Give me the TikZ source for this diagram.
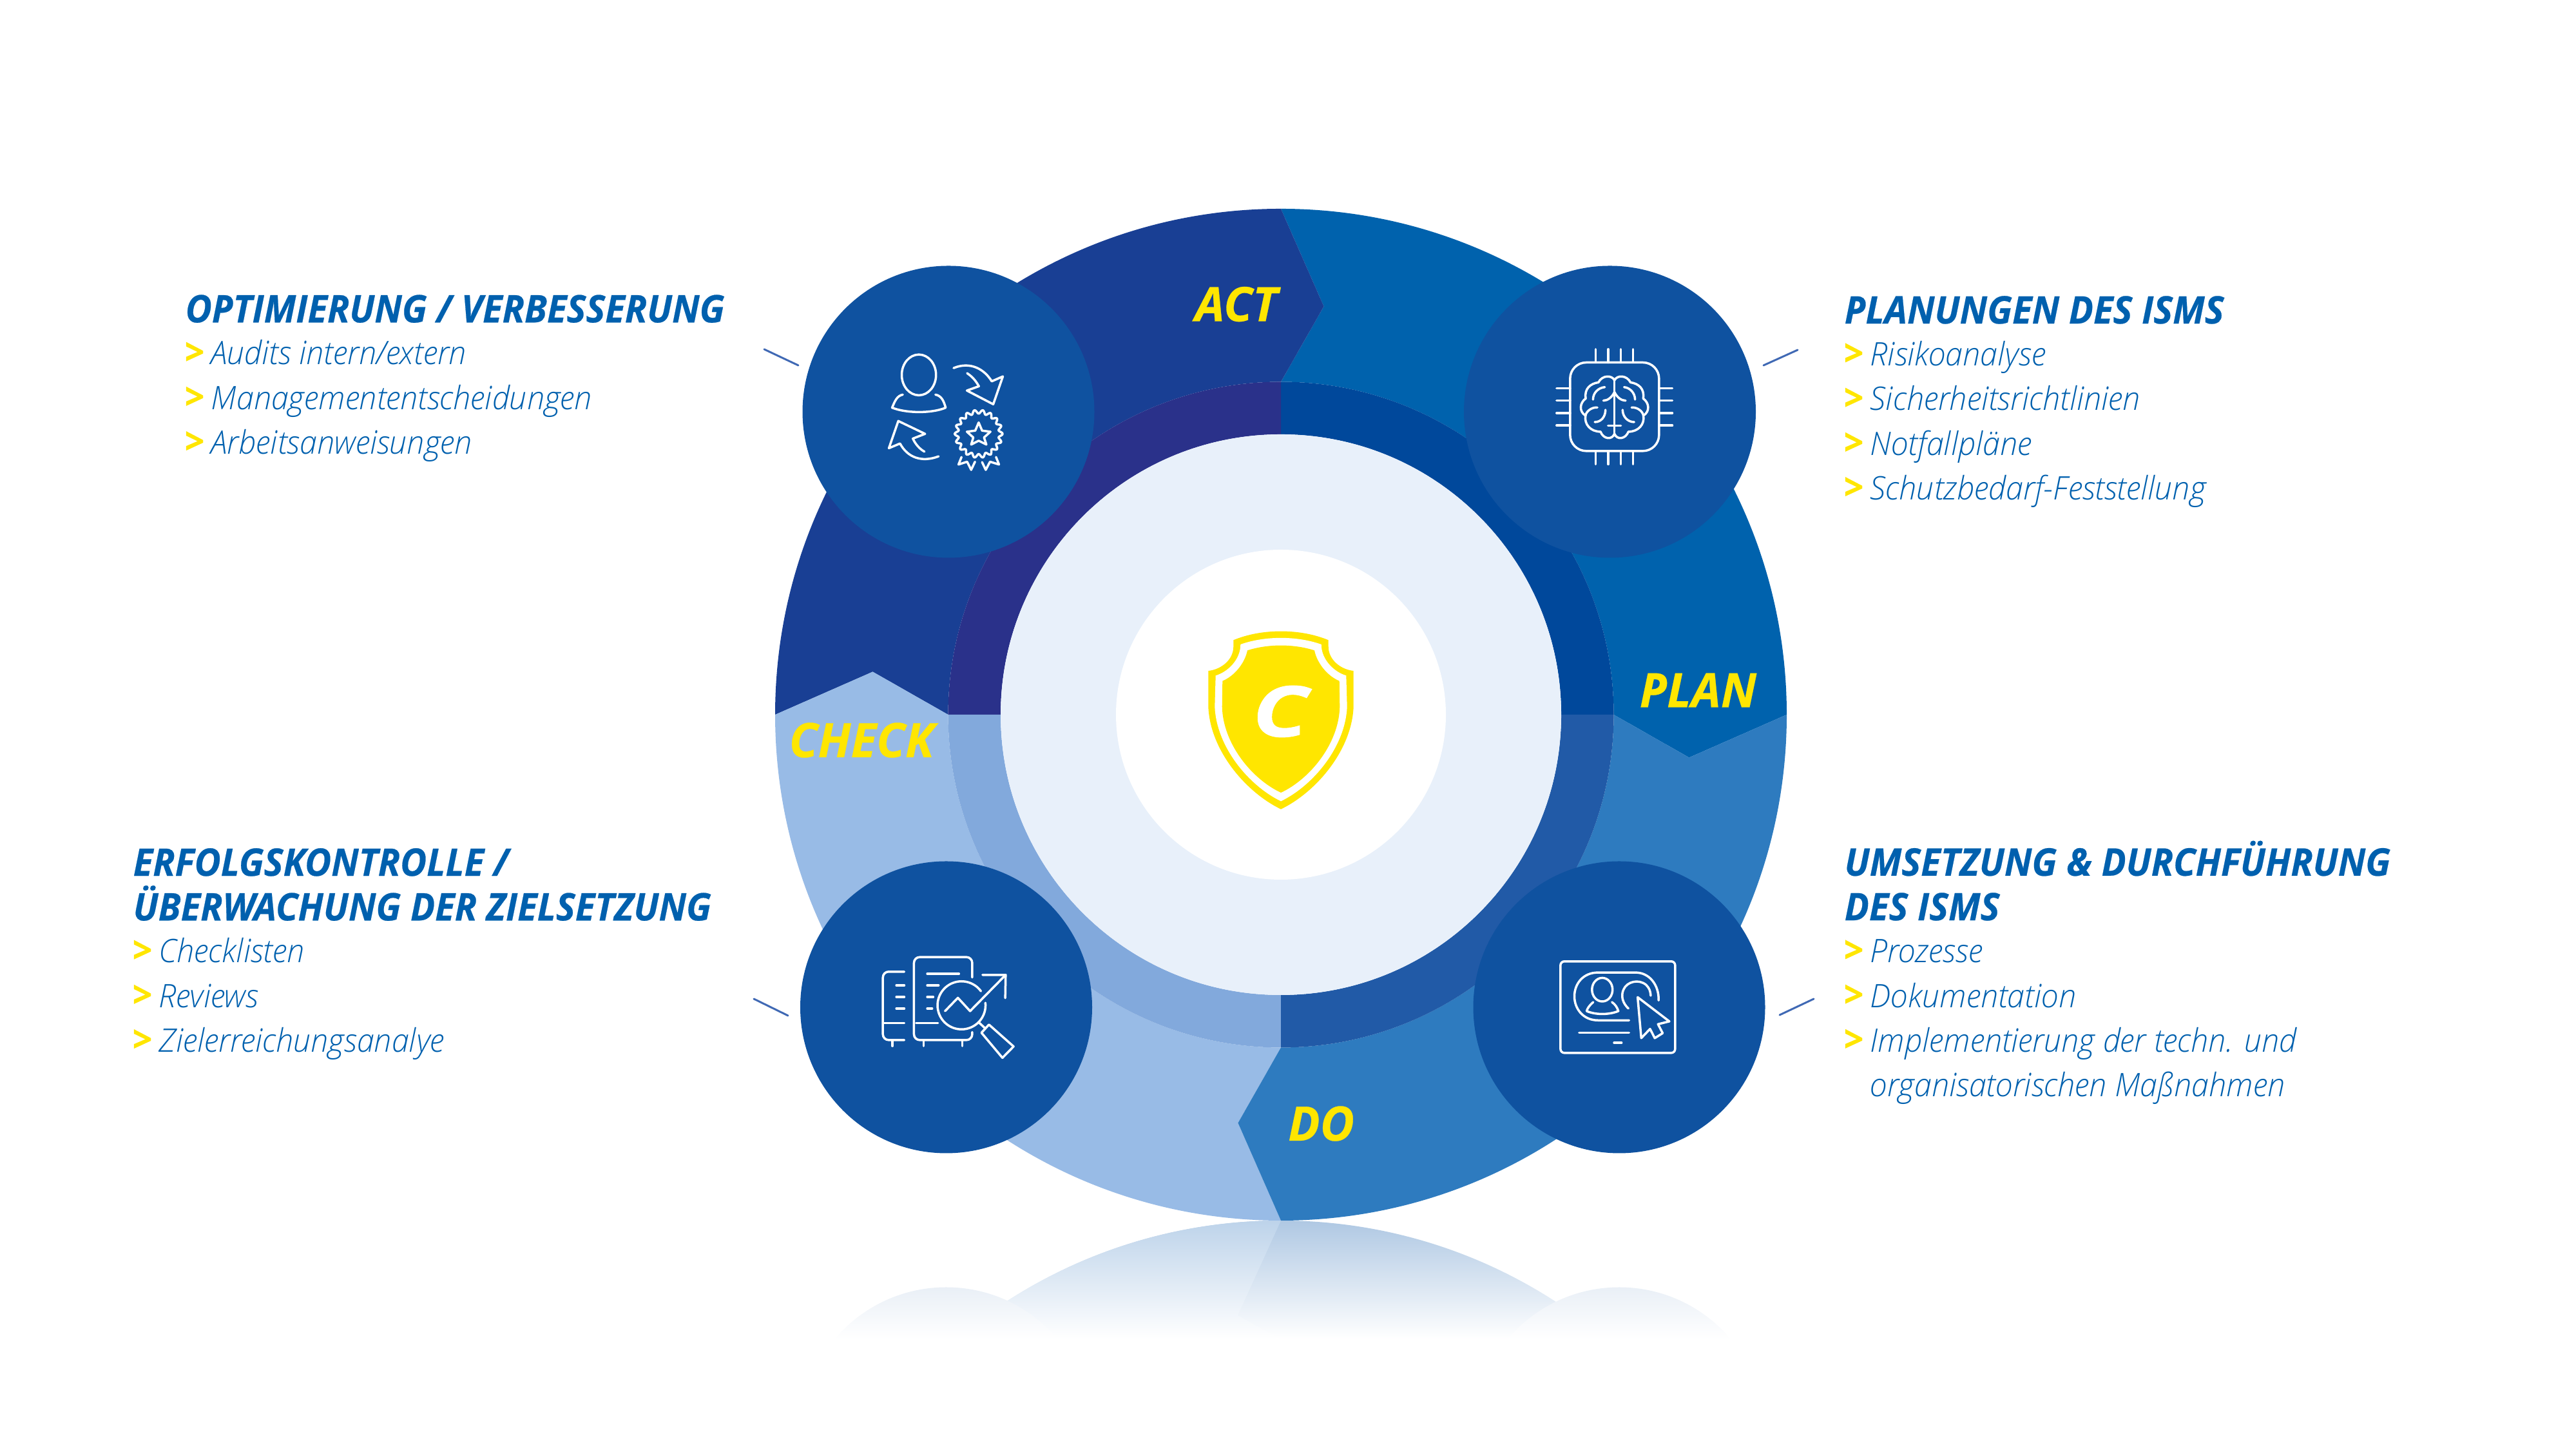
\documentclass[tikz,border=0pt]{standalone}
\usepackage{fontspec}
\setmainfont{Open Sans}
\newfontfamily\headfont[FakeStretch=0.955,FakeBold=0.4]{Open Sans}
\newfontfamily\labelfont[FakeStretch=0.99,FakeBold=0.4]{Open Sans}
\newfontfamily\logofont[FakeStretch=1.3,FakeBold=0.8]{Open Sans}
\newfontfamily\bodyfont[FakeStretch=0.965]{Open Sans Light}
\definecolor{actblue}{HTML}{193F94}
\definecolor{planblue}{HTML}{0062AD}
\definecolor{doblue}{HTML}{2E7BBF}
\definecolor{checkblue}{HTML}{98BBE6}
\definecolor{actring}{HTML}{2A318A}
\definecolor{planring}{HTML}{00489B}
\definecolor{doring}{HTML}{215AA7}
\definecolor{checkring}{HTML}{82A9DC}
\definecolor{corelight}{HTML}{E8F0FA}
\definecolor{circleblue}{HTML}{0F52A0}
\definecolor{signyellow}{HTML}{FFE600}
\definecolor{textblue}{HTML}{0060AE}
\definecolor{tickblue}{HTML}{4069B4}
\definecolor{mirrordo}{HTML}{AFC8E3}
\definecolor{mirrorcheck}{HTML}{BDD3EA}
\definecolor{mirrormid}{HTML}{EFF4FA}
\newcommand{\headline}[1]{{\hspace*{-0.03cm}\headfont\bfseries\itshape\fontsize{16.8}{19.7}\selectfont #1}}
\newcommand{\itm}[1]{\makebox[0.37cm][l]{\hspace*{-0.04cm}\textcolor{signyellow}{\headfont\bfseries\upshape\fontsize{16}{19.7}\selectfont >}}#1}
\tikzset{
    cyclelabel/.style={font=\labelfont\bfseries\itshape\fontsize{21}{21}\selectfont, text=signyellow, inner sep=0pt, anchor=base west},
    blocktext/.style={font=\bodyfont\itshape\fontsize{14.3}{19.7}\selectfont, text=textblue, align=left, inner sep=0pt, anchor=base west},
    iconcircle/.style={circle, fill=circleblue, minimum size=4.53cm, inner sep=0pt},
    iconline/.style={draw=white, line width=0.035cm, line cap=round, line join=round},
    tickline/.style={draw=tickblue, line width=0.03cm, line cap=round}
}
\begin{document}
\begin{tikzpicture}
    \useasboundingbox (0,0) rectangle (39.98,22.5);
    \coordinate (c) at (19.88,11.41);

    % Reflection below the ring
    \begin{scope}
        \clip (19.88,-4.29) circle (7.85);
        \shade[top color=mirrordo, middle color=mirrormid, bottom color=white] (12,1.72) rectangle (28,3.56);
        \begin{scope}
            \clip (12,3.56) -- (19.88,3.56) -- (19.21,2.09) -- (19.88,1.72) -- (12,1.72) -- cycle;
            \shade[top color=mirrorcheck, middle color=mirrormid, bottom color=white] (12,1.72) rectangle (28,3.56);
        \end{scope}
    \end{scope}
    \begin{scope}
        \clip (14.685,0.26) circle (2.265) (25.13,0.26) circle (2.265);
        \shade[top color=circleblue!9!white, bottom color=white] (12,1.72) rectangle (28,2.52);
    \end{scope}

    % Four segments of the ring
    \foreach \ang/\segcol/\ringcol in {0/planblue/planring, 90/actblue/actring, 180/checkblue/checkring, 270/doblue/doring} {
        \begin{scope}[shift={(c)}, rotate=\ang]
            \fill[\segcol] (90:7.85) arc[start angle=90, end angle=0, radius=7.85] -- (-6:6.37) -- (0:5.165)
                arc[start angle=0, end angle=90, radius=5.165] -- (84:6.37) -- cycle;
            \fill[\ringcol] (0:5.165) arc[start angle=0, end angle=90, radius=5.165] -- (90:4.35)
                arc[start angle=90, end angle=0, radius=4.35] -- cycle;
        \end{scope}
    }

    % Core
    \node[circle, fill=corelight, minimum size=8.7cm, inner sep=0pt] (core) at (c) {};
    \node[circle, fill=white, minimum size=5.12cm, inner sep=0pt] (corewhite) at (c) {};

    % Shield
    \begin{scope}[shift={(c)}]
        \fill[signyellow] (-0.737,1.157) .. controls (-0.3,1.34) and (0.3,1.34) .. (0.737,1.157) -- (0.737,1.057)
            .. controls (0.737,0.85) and (0.93,0.70) .. (1.127,0.68) -- (1.127,0.123)
            .. controls (1.1,-0.55) and (0.55,-1.2) .. (0,-1.467)
            .. controls (-0.55,-1.2) and (-1.1,-0.55) .. (-1.127,0.123) -- (-1.127,0.68)
            .. controls (-0.93,0.70) and (-0.737,0.85) .. (-0.737,1.057) -- cycle;
        \fill[white] (-0.627,1.09) .. controls (-0.25,1.225) and (0.25,1.225) .. (0.627,1.09)
            .. controls (0.627,0.85) and (0.83,0.66) .. (1.013,0.607) -- (1.027,0.123)
            .. controls (1.0,-0.5) and (0.5,-1.1) .. (0,-1.343)
            .. controls (-0.5,-1.1) and (-1.0,-0.5) .. (-1.027,0.123) -- (-1.013,0.607)
            .. controls (-0.83,0.66) and (-0.627,0.85) .. (-0.627,1.09) -- cycle;
        \fill[signyellow] (-0.52,0.997) .. controls (-0.2,1.1) and (0.2,1.1) .. (0.52,0.997)
            .. controls (0.56,0.8) and (0.72,0.6) .. (0.907,0.523) -- (0.913,0.123)
            .. controls (0.9,-0.45) and (0.45,-1.0) .. (0,-1.21)
            .. controls (-0.45,-1.0) and (-0.9,-0.45) .. (-0.913,0.123) -- (-0.907,0.523)
            .. controls (-0.72,0.6) and (-0.56,0.8) .. (-0.52,0.997) -- cycle;
    \end{scope}
    \node[font=\logofont\bfseries\itshape\fontsize{31}{31}\selectfont, text=white, inner sep=0pt] (logo) at (19.87,11.46) {C};

    % Labels in the ring
    \node[cyclelabel] (actlabel) at (18.54,17.515) {ACT};
    \node[cyclelabel] (planlabel) at (25.44,11.525) {PLAN};
    \node[cyclelabel] (checklabel) at (12.24,10.75) {CHECK};
    \node[cyclelabel] (dolabel) at (19.985,4.80) {DO};

    % Icon circles
    \node[iconcircle] (act) at (14.72,16.11) {};
    \node[iconcircle] (plan) at (24.985,16.11) {};
    \node[iconcircle] (check) at (14.685,6.87) {};
    \node[iconcircle] (do) at (25.13,6.87) {};

    % Small ticks beside the circles
    \coordinate (acta) at (11.86,17.08);
    \coordinate (actb) at (12.39,16.83);
    \coordinate (plana) at (27.90,17.07);
    \coordinate (planb) at (27.37,16.83);
    \coordinate (checka) at (11.70,7.00);
    \coordinate (checkb) at (12.23,6.74);
    \coordinate (doa) at (28.15,7.00);
    \coordinate (dob) at (27.62,6.75);
    \foreach \n in {act,plan,check,do} {
        \draw[tickline] (\n a) -- (\n b);
    }

    % Icon: person, arrows, badge
    \begin{scope}[shift={(act)}, x=0.003333cm, y=-0.003333cm, shift={(-396,-387)}, iconline]
        \draw (258,215) ellipse (80 and 95);
        \draw (183,307) .. controls (155,312) and (145,340) .. (133,368) .. controls (200,395) and (320,395) .. (383,368)
            .. controls (375,340) and (365,312) .. (335,307);
        \draw (420,183) .. controls (500,150) and (565,190) .. (598,245) -- (650,222) -- (605,352) -- (482,288) -- (538,268)
            .. controls (525,245) and (510,225) .. (483,207);
        \draw (350,595) .. controls (270,625) and (205,600) .. (170,535) -- (118,557) -- (162,430) -- (287,490) -- (230,512)
            .. controls (240,535) and (260,560) .. (284,573);
        \draw plot[domain=0:360, samples=145] ({537+(103+9*cos(18*\x))*cos(\x)},{490+(103+9*cos(18*\x))*sin(\x)}) -- cycle;
        \draw (537,437) -- (553,475) -- (592,480) -- (562,507) -- (573,540) -- (537,522) -- (502,540) -- (512,507)
            -- (482,480) -- (521,475) -- cycle;
        \draw (457,598) -- (443,633) -- (483,620) -- (502,658) -- (520,620);
        \draw (553,622) -- (570,658) -- (590,620) -- (632,633) -- (618,598);
    \end{scope}

    % Icon: brain on a chip
    \begin{scope}[shift={(plan)}, x=0.003333cm, y=-0.003333cm, shift={(-325.5,-387)}, iconline]
        \draw[rounded corners=0.25cm] (140,157) rectangle (555,570);
        \foreach \p in {260,318,376,434} {
            \draw (\p,95) -- (\p,157);
            \draw (\p,570) -- (\p,632);
        }
        \foreach \p in {277,335,393,451} {
            \draw (77,\p) -- (140,\p);
            \draw (555,\p) -- (617,\p);
        }
        \draw (347,240) .. controls (335,215) and (290,215) .. (272,250) .. controls (235,255) and (205,280) .. (213,325)
            .. controls (185,345) and (180,385) .. (212,405) .. controls (205,445) and (235,480) .. (282,480)
            .. controls (295,515) and (335,520) .. (347,490)
            .. controls (359,520) and (399,515) .. (412,480) .. controls (459,480) and (489,445) .. (482,405)
            .. controls (514,385) and (509,345) .. (481,325) .. controls (489,280) and (459,255) .. (422,250)
            .. controls (404,215) and (359,215) .. (347,240) -- cycle;
        \draw (347,240) -- (347,490);
        \draw (317,452) -- (377,452);
        \draw (247,330) .. controls (247,300) and (270,275) .. (302,272);
        \draw (443,330) .. controls (443,300) and (420,275) .. (392,272);
        \draw (295,335) .. controls (315,335) and (335,320) .. (347,295) .. controls (359,320) and (379,335) .. (399,335);
        \draw (212,405) .. controls (215,385) and (240,365) .. (267,367);
        \draw (482,405) .. controls (479,385) and (454,365) .. (427,367);
        \draw (305,378) .. controls (305,410) and (285,435) .. (255,435);
        \draw (385,378) .. controls (385,410) and (409,435) .. (439,435);
    \end{scope}

    % Icon: documents and magnifier
    \begin{scope}[shift={(check)}, x=0.003333cm, y=-0.003333cm, shift={(-355.5,-279)}, iconline]
        \draw[rounded corners=0.09cm] (160,113) -- (60,113) -- (60,432) -- (160,432);
        \draw (65,353) -- (160,353);
        \foreach \p in {177,231,285} {
            \draw (123,\p) -- (160,\p);
        }
        \draw (105,435) -- (105,460);
        \draw[rounded corners=0.09cm] (477,140) -- (477,45) -- (205,45) -- (205,432) -- (477,432) -- (477,395);
        \draw (267,123) -- (415,123);
        \draw (267,177) -- (320,177);
        \draw (267,231) -- (295,231);
        \draw (267,285) -- (290,285);
        \draw (215,353) -- (317,353);
        \draw (250,435) -- (250,460);
        \draw (431,435) -- (431,460);
        \draw plot[domain=-6:324, samples=67] ({427+112*cos(\x)},{270+112*sin(\x)});
        \draw (350,297) -- (410,235) -- (467,297) -- (633,128);
        \draw (525,128) -- (633,128) -- (631,236);
        \draw (510,352) -- (535,375);
        \draw (555,360) -- (670,462) -- (618,515) -- (520,398) -- cycle;
    \end{scope}

    % Icon: screen with person and cursor
    \begin{scope}[shift={(do)}, x=0.003333cm, y=-0.003333cm, shift={(-309,-279)}, iconline]
        \draw[rounded corners=0.06cm] (35,65) rectangle (570,492);
        \draw (355,340) -- (210,340) .. controls (140,340) and (100,285) .. (100,228) .. controls (100,170) and (140,117) .. (210,117)
            -- (385,117) .. controls (450,117) and (495,175) .. (493,247);
        \draw (230,197) ellipse (48 and 55);
        \draw (188,255) .. controls (170,270) and (160,285) .. (157,297) .. controls (200,315) and (260,315) .. (305,297)
            .. controls (300,280) and (290,265) .. (275,255);
        \draw (352,285) .. controls (325,260) and (315,225) .. (330,195) .. controls (345,160) and (400,145) .. (435,175)
            .. controls (450,190) and (455,205) .. (456,225);
        \draw (395,232) -- (412,423) -- (453,380) -- (475,423) -- (512,400) -- (490,358) -- (543,345) -- cycle;
        \draw (122,398) -- (355,398);
        \draw (285,445) -- (320,445);
    \end{scope}

    % Text blocks
    \node[blocktext] (acttext) at (2.90,15.455) {\headline{OPTIMIERUNG / VERBESSERUNG}\\[-1pt]
        \itm{Audits intern/extern}\\
        \itm{Managemententscheidungen}\\
        \itm{Arbeitsanweisungen}};
    \node[blocktext] (plantext) at (28.65,14.745) {\headline{PLANUNGEN DES ISMS}\\[-1pt]
        \itm{Risikoanalyse}\\
        \itm{Sicherheitsrichtlinien}\\
        \itm{Notfallpläne}\\
        \itm{Schutzbedarf-Feststellung}};
    \node[blocktext] (checktext) at (2.09,6.175) {\headline{ERFOLGSKONTROLLE /}\\
        \headline{ÜBERWACHUNG DER ZIELSETZUNG}\\[-1pt]
        \itm{Checklisten}\\
        \itm{Reviews}\\
        \itm{Zielerreichungsanalye}};
    \node[blocktext] (dotext) at (28.65,5.485) {\headline{UMSETZUNG \& DURCHFÜHRUNG}\\
        \headline{DES ISMS}\\[-1pt]
        \itm{Prozesse}\\
        \itm{Dokumentation}\\
        \itm{Implementierung der techn. und}\\
        \hspace*{0.37cm}organisatorischen Maßnahmen};
\end{tikzpicture}
\end{document}
